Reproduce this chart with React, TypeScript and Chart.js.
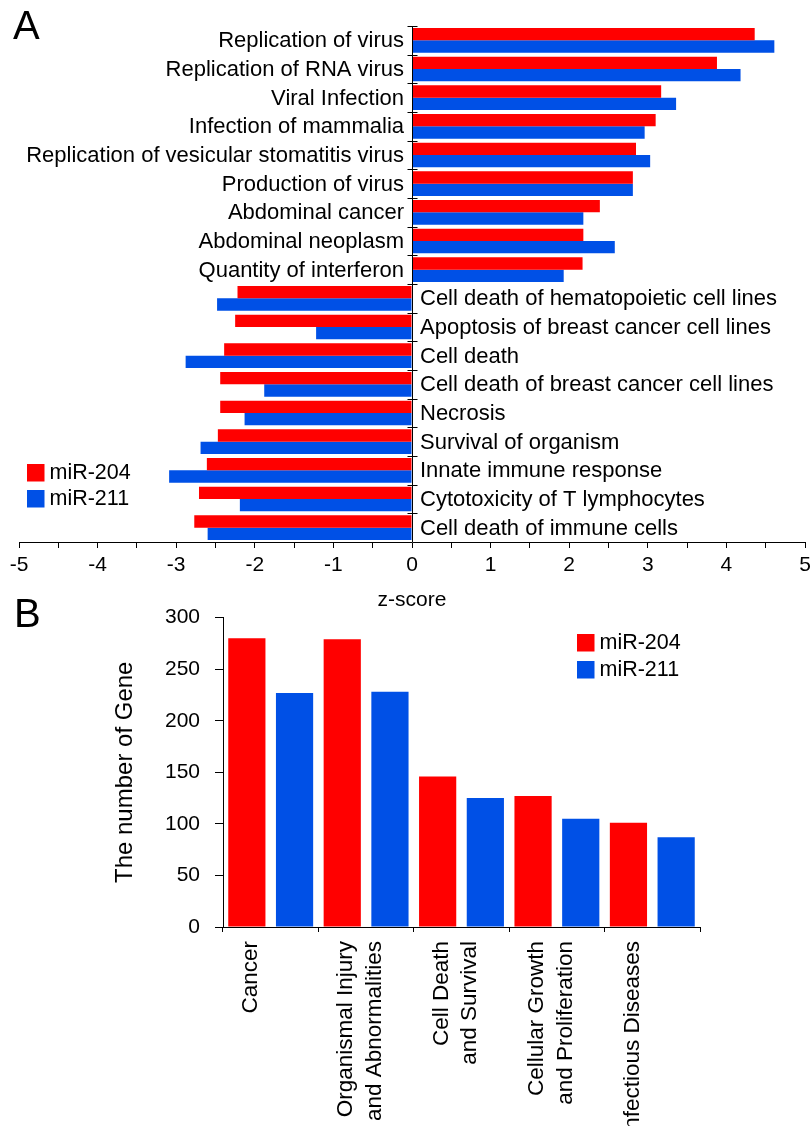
import React, { useEffect, useRef } from 'react';
import { Chart, registerables } from 'chart.js';

Chart.register(...registerables);

const FONT = "'Liberation Sans', Arial, Helvetica, sans-serif";
const RED = '#FF0000';
const BLUE = '#0050E6';

const seriesNames = ['miR-204', 'miR-211'];

// Panel A: z-scores
const zCategories = [
  'Replication of virus',
  'Replication of RNA virus',
  'Viral Infection',
  'Infection of mammalia',
  'Replication of vesicular stomatitis virus',
  'Production of virus',
  'Abdominal cancer',
  'Abdominal neoplasm',
  'Quantity of interferon',
  'Cell death of hematopoietic cell lines',
  'Apoptosis of breast cancer cell lines',
  'Cell death',
  'Cell death of breast cancer cell lines',
  'Necrosis',
  'Survival of organism',
  'Innate immune response',
  'Cytotoxicity of T lymphocytes',
  'Cell death of immune cells',
];
const zMiR204 = [4.36, 3.88, 3.17, 3.1, 2.85, 2.81, 2.39, 2.18, 2.17, -2.22, -2.25, -2.39, -2.44, -2.44, -2.47, -2.61, -2.71, -2.77];
const zMiR211 = [4.61, 4.18, 3.36, 2.96, 3.03, 2.81, 2.18, 2.58, 1.93, -2.48, -1.22, -2.88, -1.88, -2.13, -2.69, -3.09, -2.19, -2.6];
const zMin = -5;
const zMax = 5;
const zStep = 0.5;
const zTitle = 'z-score';

// Panel B: number of genes
const geneCategories = [
  ['Cancer'],
  ['Organismal Injury', 'and Abnormalities'],
  ['Cell Death', 'and Survival'],
  ['Cellular Growth', 'and Proliferation'],
  ['Infectious Diseases'],
];
const geneMiR204 = [280, 279, 146, 127, 101];
const geneMiR211 = [227, 228, 125, 105, 87];
const geneMin = 0;
const geneMax = 300;
const geneStep = 50;
const geneTitle = 'The number of Gene';

function drawLegend(ctx: CanvasRenderingContext2D, x: number, y: number, size: number, gap: number) {
  const colors = [RED, BLUE];
  ctx.save();
  ctx.font = `21.5px ${FONT}`;
  ctx.textBaseline = 'middle';
  ctx.textAlign = 'left';
  seriesNames.forEach((name, i) => {
    const yy = y + i * gap;
    ctx.fillStyle = colors[i];
    ctx.fillRect(x, yy, size, size);
    ctx.fillStyle = '#000';
    ctx.fillText(name, x + size + 5, yy + size / 2);
  });
  ctx.restore();
}

const zAxisPlugin = {
  id: 'zAxisPlugin',
  afterDatasetsDraw(chart: any) {
    const { ctx, chartArea, scales } = chart;
    const x = scales.x;
    const y = scales.y;
    const x0 = x.getPixelForValue(0);
    const xp = Math.round(x0) + 0.5;
    const n = zCategories.length;
    const step = y.getPixelForValue(1) - y.getPixelForValue(0);
    ctx.save();
    ctx.strokeStyle = '#000';
    ctx.lineWidth = 1;
    ctx.beginPath();
    ctx.moveTo(xp, chartArea.top);
    ctx.lineTo(xp, chartArea.bottom);
    for (let i = 0; i < n; i++) {
      const yb = Math.round(y.getPixelForValue(i) - step / 2) + 0.5;
      ctx.moveTo(xp - 5, yb);
      ctx.lineTo(xp + 5, yb);
    }
    ctx.stroke();
    ctx.font = `22px ${FONT}`;
    ctx.fillStyle = '#000';
    ctx.textBaseline = 'middle';
    zCategories.forEach((c, i) => {
      const yc = y.getPixelForValue(i) + 1;
      const pos = zMiR204[i] >= 0;
      ctx.textAlign = pos ? 'right' : 'left';
      ctx.fillText(c, pos ? x0 - 8 : x0 + 8, yc);
    });
    ctx.restore();
    drawLegend(ctx, 27, 464, 17.5, 26);
  },
};

const geneLegendPlugin = {
  id: 'geneLegendPlugin',
  afterDatasetsDraw(chart: any) {
    drawLegend(chart.ctx, 577, 44, 17.5, 27);
  },
};

export default function App() {
  const topRef = useRef<HTMLCanvasElement>(null);
  const botRef = useRef<HTMLCanvasElement>(null);

  useEffect(() => {
    document.body.style.margin = '0';
    Chart.defaults.font.family = FONT;
    Chart.defaults.color = '#000';

    const top = new Chart(topRef.current as HTMLCanvasElement, {
      type: 'bar',
      data: {
        labels: zCategories,
        datasets: [
          { label: seriesNames[0], data: zMiR204, backgroundColor: RED, borderWidth: 0 },
          { label: seriesNames[1], data: zMiR211, backgroundColor: BLUE, borderWidth: 0 },
        ],
      },
      options: {
        indexAxis: 'y',
        responsive: false,
        animation: false,
        devicePixelRatio: 1,
        layout: { padding: { left: 19, right: 6, top: 26, bottom: 0 } },
        datasets: { bar: { categoryPercentage: 0.86, barPercentage: 1.0 } },
        plugins: { legend: { display: false }, tooltip: { enabled: false } },
        scales: {
          y: { type: 'category', display: false },
          x: {
            type: 'linear',
            min: zMin,
            max: zMax,
            afterFit: (s: any) => {
              s.height = 78;
              s.paddingLeft = 0;
              s.paddingRight = 0;
            },
            ticks: {
              stepSize: zStep,
              autoSkip: false,
              maxRotation: 0,
              padding: 5,
              color: '#000',
              font: { size: 21 },
              callback: (v: any) => (Number.isInteger(v) ? String(v) : ''),
            },
            grid: { drawOnChartArea: false, drawTicks: true, tickLength: 6, color: '#000' },
            border: { display: true, color: '#000', width: 1 },
            title: { display: true, text: zTitle, color: '#000', font: { size: 21 }, padding: { top: 0, bottom: 7 } },
          },
        },
      } as any,
      plugins: [zAxisPlugin],
    });

    const bot = new Chart(botRef.current as HTMLCanvasElement, {
      type: 'bar',
      data: {
        labels: geneCategories as any,
        datasets: [
          { label: seriesNames[0], data: geneMiR204, backgroundColor: RED, borderWidth: 0 },
          { label: seriesNames[1], data: geneMiR211, backgroundColor: BLUE, borderWidth: 0 },
        ],
      },
      options: {
        responsive: false,
        animation: false,
        devicePixelRatio: 1,
        layout: { padding: { left: 0, right: 111, top: 23, bottom: 0 } },
        datasets: { bar: { categoryPercentage: 1.0, barPercentage: 0.78 } },
        plugins: { legend: { display: false }, tooltip: { enabled: false } },
        scales: {
          x: {
            type: 'category',
            afterFit: (s: any) => { s.height = 199; },
            ticks: {
              autoSkip: false,
              maxRotation: 90,
              minRotation: 90,
              padding: 9,
              labelOffset: -20,
              color: '#000',
              font: { size: 22.5, lineHeight: 1.27 },
            },
            grid: { drawOnChartArea: false, tickLength: 5, color: '#000', offset: true },
            border: { display: true, color: '#000', width: 1 },
          },
          y: {
            type: 'linear',
            min: geneMin,
            max: geneMax,
            afterFit: (s: any) => { s.width = 223; },
            ticks: { stepSize: geneStep, padding: 15, color: '#000', font: { size: 21 } },
            grid: { drawOnChartArea: false, tickLength: 8, color: '#000' },
            border: { display: true, color: '#000', width: 1 },
            title: { display: true, text: geneTitle, color: '#000', font: { size: 24 }, padding: { top: 111, bottom: 0 } },
          },
        },
      } as any,
      plugins: [geneLegendPlugin],
    });

    return () => {
      top.destroy();
      bot.destroy();
    };
  }, []);

  const letter: React.CSSProperties = {
    position: 'absolute',
    fontFamily: FONT,
    fontSize: 40,
    lineHeight: '40px',
    color: '#000',
    margin: 0,
  };

  return (
    <div style={{ position: 'relative', width: 811, height: 1126, overflow: 'hidden', background: '#fff' }}>
      <canvas ref={topRef} width={811} height={620} style={{ position: 'absolute', left: 0, top: 0, width: 811, height: 620 }} />
      <canvas ref={botRef} width={811} height={536} style={{ position: 'absolute', left: 0, top: 590, width: 811, height: 536 }} />
      <div style={{ ...letter, left: 13, top: 5 }}>A</div>
      <div style={{ ...letter, left: 14, top: 593 }}>B</div>
    </div>
  );
}
